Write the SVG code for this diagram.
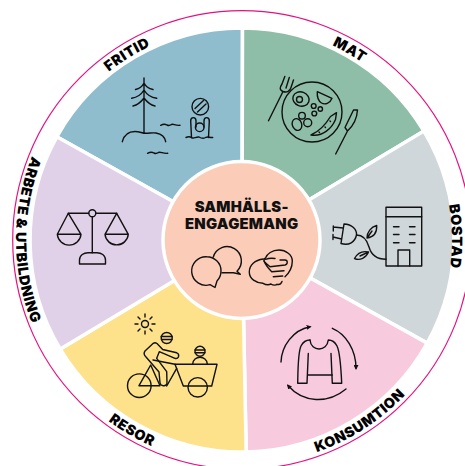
<svg xmlns="http://www.w3.org/2000/svg" xmlns:xlink="http://www.w3.org/1999/xlink" width="465" height="466" viewBox="0 0 465 466">
<style>
.sec{stroke:#fff;stroke-width:3.5;stroke-linejoin:miter}
.ic,.ic *{fill:none;stroke:#111;stroke-width:1.4;stroke-linecap:round;stroke-linejoin:round}
.lb{font-family:"Inter","Liberation Sans",sans-serif;font-weight:900;font-size:14.2px;letter-spacing:.55px;fill:#000}
.ct{font-family:"Inter","Liberation Sans",sans-serif;font-weight:900;font-size:14.8px;letter-spacing:.25px;fill:#111;text-anchor:middle}
</style>
<defs>
<path id="pFritid" d="M67.800 114.700A214.500 214.500 0 0 1 207.300 28.300"/>
<path id="pMat" d="M279.300 28.800A214.500 214.500 0 0 1 404 99.300"/>
<path id="pBostad" d="M439.300 168.200A210 210 0 0 1 441.700 304.900"/>
<path id="pKons" d="M253.800 464.700A225 225 0 0 0 442.500 342.100"/>
<path id="pResor" d="M47.100 352.500A225 225 0 0 0 242 465"/>
<path id="pArbete" d="M68.900 94.700A226 226 0 0 0 68.900 385.300"/>
<marker id="ah" viewBox="0 0 6 6" refX="4" refY="3" markerWidth="5" markerHeight="5" markerUnits="userSpaceOnUse" orient="auto"><path d="M0 0L6 3L0 6Z" fill="#111"/></marker>
</defs>
<rect width="465" height="466" fill="#fff"/>
<circle id="ring" cx="242" cy="240" r="229.3" fill="none" stroke="#e6107f" stroke-width="1.2"/>

<g id="connectors"></g>

<g id="fritid">
<path class="sec" fill="#8fbdce" d="M242 240L56.800 136.800A212 212 0 0 1 242.500 28Z"/>
<text class="lb"><textPath href="#pFritid" xlink:href="#pFritid" startOffset="50%" text-anchor="middle">FRITID</textPath></text>
<g class="ic">
<path d="M144 78V133M144 83C142 87 140 88.500 135.500 89.500M144 83C146 87 148 88.500 153 89.500M144 90C141 95 137 97.500 131.700 98.300M144 90C147 95 151 97.500 156.700 98.300M144 98C141 102 137 105 133 106M144 98C147 102 151 105 155 106"/>
<path d="M122.300 141.700C124 135 129 131.500 135 131.500C140 131.500 142 133.300 146 133.300C150 133.300 152 132.500 156 133C161 134 165 137 165.700 141.700"/>
<path d="M160.700 125.300C163 124 165 123.800 167 125C169 126 170 125.500 171.500 124.500C173.500 123.500 175 125.800 180 125.300"/>
<path d="M147.500 153.300C150 152 152 151.800 154 153C156 154 157 153.500 158.500 152.500C160.500 151.500 163 153.800 167.700 153.300"/>
<circle cx="200.300" cy="106.700" r="8.300"/>
<path d="M195 108.500L203.500 100.500M197.500 112L206 104"/>
<path d="M191.500 137.500L190.700 121C190.700 116.500 196 116.500 196 121V127"/>
<path d="M208.500 137.500L209.300 121C209.300 116.500 204 116.500 204 121V127"/>
<circle cx="199.700" cy="127.300" r="4.300"/>
<path d="M186 137.500C188 136.500 190 136.500 192 137.800C194 138.800 196 136.500 199 137C202 138.800 204 138.800 206 137.300C208 136.500 210 137.800 212.700 137.500"/>
</g>
</g>

<g id="mat">
<path class="sec" fill="#8fbea8" d="M242 240L242.500 28A212 212 0 0 1 423.900 131.100Z"/>
<text class="lb"><textPath href="#pMat" xlink:href="#pMat" startOffset="50%" text-anchor="middle">MAT</textPath></text>
<g class="ic">
<circle cx="312" cy="112" r="30"/>
<path d="M268.500 120.800L283 91.500M283 91.500C279 90 280 87 282 84L284.800 76.500M283 91.500C287 93 290 91 291 87.500L293.500 80M286 88L289.300 77.500"/>
<path d="M335.700 154L347.500 131L345 127.500L353.500 110L357.500 110C357 118 353 126 347.500 131"/>
<ellipse cx="301" cy="99" rx="8.300" ry="7" transform="rotate(20 301 99)"/>
<circle cx="299.500" cy="99.500" r="3"/>
<path d="M317.300 91.700L332 98.300C330 103.500 325 105 321.500 103C318.500 101 317 96 317.300 91.700Z"/>
<circle cx="313.700" cy="106" r="2.400"/><circle cx="320.300" cy="109" r="2.200"/><circle cx="314.300" cy="113.500" r="2.400"/>
<circle cx="302" cy="115.700" r="3.300"/><circle cx="307.700" cy="122.700" r="4"/>
<ellipse cx="297" cy="124.500" rx="4.700" ry="6" transform="rotate(-20 297 124.500)"/>
<path d="M311 135C320 131 326 124 330.500 116.500L336.500 112.700L335.500 119.500C332 128 323 137 311 135Z"/>
<path d="M319 132l.5 .5M325 127l.5 .5M330 121l.5 .5"/>
</g>
</g>

<g id="bostad">
<path class="sec" fill="#d0d7da" d="M242 240L423.900 131.100A212 212 0 0 1 427.200 343.100Z"/>
<text class="lb"><textPath href="#pBostad" xlink:href="#pBostad" startOffset="50%" text-anchor="middle">BOSTAD</textPath></text>
<g class="ic">
<rect x="386" y="207.300" width="35.700" height="58.700"/>
<path d="M386 216.700H421.700M393.500 226.700H399M409.500 226.700H415M393.500 234.500H399M409.500 234.500H415M393.500 242.700H399M409.500 242.700H415"/>
<path d="M398 266V250H409.700V266"/>
<path d="M344 224L341 243.500C349 246 355 242 356.500 235C357 229 352 224.500 344 224ZM343 228L333.300 227M341.500 239L333 237M333.300 226V231M333 234.500V239.500"/>
<path d="M356.500 235C364 235 367 240 369 247C371 254 376 259.300 386 259.300"/>
<path d="M367 238C367 232 371 227 376.700 225.500C377 232 374 237 367 238ZM367 238L372 231"/>
<path d="M368.500 252C364 251 358 252 354.500 258.500C360 261 366 258 368.500 252ZM368.500 252L360 256"/>
</g>
</g>

<g id="konsumtion">
<path class="sec" fill="#f7cade" d="M242 240L427.200 343.100A212 212 0 0 1 246.200 452Z"/>
<text class="lb"><textPath href="#pKons" xlink:href="#pKons" startOffset="50%" text-anchor="middle">KONSUMTION</textPath></text>
<g class="ic">
<path marker-end="url(#ah)" d="M281 362C281.500 346 293 330 310 326.700"/>
<path marker-end="url(#ah)" d="M332.300 328.300C346 334 356 350 356 368.300"/>
<path marker-end="url(#ah)" d="M346 389C328 404 303 403 288 385.500"/>
<path d="M310 340C311 352 327 352 328.300 340C332 340 335 342 337 346C340 352 341 368 341.700 383.300H332.300L331 353.500"/>
<path d="M310 340C306 340 303 342 301 346C298 352 298 368 297.700 383.300H307L308.300 353.500"/>
<path d="M307.700 375H332.300"/>
</g>
</g>

<g id="resor">
<path class="sec" fill="#fde18b" d="M242 240L246.200 452A212 212 0 0 1 60.300 349.100Z"/>
<text class="lb"><textPath href="#pResor" xlink:href="#pResor" startOffset="50%" text-anchor="middle">RESOR</textPath></text>
<g class="ic">
<circle cx="145" cy="324" r="3.500"/>
<path d="M145 314V317M145 331V334M135 324H138M152 324H155M138 317L140 319M150 329L152 331M138 331L140 329M150 319L152 317"/>
<circle cx="166.700" cy="338" r="5.500"/>
<path d="M161.300 336.500H172M161.500 339.500H172"/>
<circle cx="200" cy="351.300" r="5"/>
<path d="M195 350H205M195 352.800H205"/>
<path d="M192.700 364C193 355 207 355 207.300 364"/>
<path d="M175 364.300H217L211.700 386H183.300L175 364.300Z"/>
<circle cx="197.700" cy="387.300" r="9.700"/>
<circle cx="139.300" cy="385.700" r="11.800"/>
<path d="M139 385.700L150.700 365L160 385.700ZM153 360L175 364.300M166.700 386L176.700 368.300"/>
<path d="M153.300 343.300L145 351C143.500 353 144 355 146 357L159 372L160 383C160.500 386 166 387 167 383.500L166.700 371.700L156.700 358.300L159.300 351.700L175 358.300C179 359.500 180 354 176.700 352.800L162.700 349.500L157 343.500C156 342.800 154.500 342.500 153.300 343.300Z"/>
</g>
</g>

<g id="arbete">
<path class="sec" fill="#e0d0e8" d="M242 240L60.300 349.100A212 212 0 0 1 56.800 136.800Z"/>
<text class="lb"><textPath href="#pArbete" xlink:href="#pArbete" startOffset="50%" text-anchor="middle">ARBETE &amp; UTBILDNING</textPath></text>
<g class="ic">
<path d="M68.300 213.300H88.800M95.800 213.300H116.700M92.300 216.800V252.700"/>
<circle cx="92.300" cy="213.300" r="3.500"/>
<path d="M79.500 264V260C79.500 255 84 252.700 88 252.700H97C101 252.700 105.500 255 105.500 260V264Z"/>
<path d="M57.300 234.300L68.300 213.300L81 234.300ZM57.300 234.300A11.900 11.900 0 0 0 81 234.300"/>
<path d="M105 234.300L116.700 213.300L128.300 234.300ZM105 234.300A11.700 11.700 0 0 0 128.300 234.300"/>
</g>
</g>

<g id="samhallsengagemang">
<circle cx="241.500" cy="240" r="78.500" fill="#fbcdb8" stroke="#fff" stroke-width="3.500"/>
<text class="ct" x="241.700" y="212.300">SAMHÄLLS-</text>
<text class="ct" x="241.700" y="229.300">ENGAGEMANG</text>
<g class="ic">
<path d="M213.300 257A14.300 14.300 0 1 1 237 271.200L240.300 274.300L233.500 272.800L222 272.800"/>
<path d="M206.700 256.700A14.300 14.300 0 1 0 210 284.700L215 287.500L217 281C220 278 221 274.500 221 270.800C221 263 214.500 256.700 206.700 256.700Z"/>
<path d="M263.300 259C255 260 249.300 265 249.300 272C249.300 279 256 283 263 283.300C266 285 269 285 271 284C273 285.500 276 285.500 277 284.300C279 285 281 284 282 281.500"/>
<path d="M265.500 263C263 261 264 258.500 265.500 258C267 254 272 250 279 250C286 250 292.300 255 292.300 261C292.300 268 288 274 285 276.700"/>
<path d="M265.500 259.300C269 258 272 258 275 258.500M270 266.700L285 265C288 264.500 288 260 285 260L280 260M271.700 271.700L284 270.700M273.300 276.700L282.700 276M264.500 262L270 266.700M264 261C266 266 270 270 271.700 271.700"/>
</g>
</g>
</svg>
